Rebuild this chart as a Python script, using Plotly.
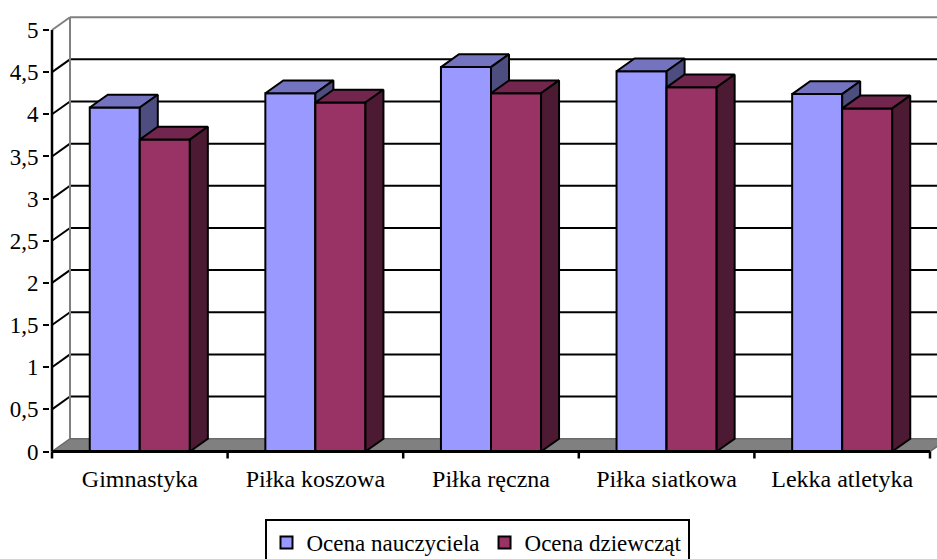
import plotly.graph_objects as go

# ---------------- data ----------------
categories = ["Gimnastyka", "Piłka koszowa", "Piłka ręczna", "Piłka siatkowa", "Lekka atletyka"]
series_names = ["Ocena nauczyciela", "Ocena dziewcząt"]
teacher = [4.08, 4.25, 4.56, 4.51, 4.24]
girls = [3.70, 4.14, 4.25, 4.32, 4.07]
ytick_vals = [0, 0.5, 1, 1.5, 2, 2.5, 3, 3.5, 4, 4.5, 5]
ytick_text = ["0", "0,5", "1", "1,5", "2", "2,5", "3", "3,5", "4", "4,5", "5"]

# ---------------- styling / geometry ----------------
PPX = 175.6          # pixels per category unit
PPY = 84.3           # pixels per value unit
DX = 18 / PPX        # depth offset (category units)
DY = 12.8 / PPY      # depth offset (value units)
W = 0.285            # bar width (category units)
YMAX = 5

front_cols = ["#9999FF", "#993366"]
top_cols = ["#7373C0", "#73264D"]
side_cols = ["#4D4D80", "#4D1A33"]
GRAY = "#808080"
FONT = "Liberation Serif, Times New Roman, serif"

W_PX, H_PX = 937, 559
ML, MT, MB = 50, 8, 97
x0 = -0.5 - (52 - ML) / PPX
x1 = x0 + (W_PX - ML) / PPX
y_bottom_px = H_PX - MB
y0 = -(y_bottom_px - 451.5) / PPY
y1 = y0 + (H_PX - MT - MB) / PPY

n = len(categories)
xl, xr = -0.5, n - 0.5

fig = go.Figure()


def line(xs, ys, color="black", width=2):
    fig.add_trace(go.Scatter(x=xs, y=ys, mode="lines", line=dict(color=color, width=width),
                             showlegend=False, hoverinfo="skip"))


def poly(xs, ys, fill, lw=2):
    fig.add_trace(go.Scatter(x=xs + [xs[0]], y=ys + [ys[0]], mode="lines", fill="toself",
                             fillcolor=fill, line=dict(color="black", width=lw),
                             showlegend=False, hoverinfo="skip"))


# back wall gridlines + left wall diagonals
for v in ytick_vals[1:]:
    c = GRAY if v == YMAX else "black"
    line([xl + DX, x1 + 1], [v + DY, v + DY], color=c)
    line([xl, xl + DX], [v, v + DY], color=c)
# back wall left edge
line([xl + DX, xl + DX], [DY, YMAX + DY], color=GRAY)

# floor
fig.add_trace(go.Scatter(x=[xl, xr, xr + DX, xl + DX, xl], y=[0, 0, DY, DY, 0], mode="lines",
                         fill="toself", fillcolor=GRAY, line=dict(color="#6a6a6a", width=1.5),
                         showlegend=False, hoverinfo="skip"))

# bars (pseudo 3D)
for i in range(n):
    for s, vals in enumerate([teacher, girls]):
        h = vals[i]
        bx0 = i - W + s * W
        bx1 = bx0 + W
        poly([bx0, bx1, bx1, bx0], [0, 0, h, h], front_cols[s])
        poly([bx0, bx1, bx1 + DX, bx0 + DX], [h, h, h + DY, h + DY], top_cols[s])
        poly([bx1, bx1 + DX, bx1 + DX, bx1], [0, DY, h + DY, h], side_cols[s])

# front axes
line([xl, xr], [0, 0], width=3)
line([xl, xl], [0, YMAX], width=2.5)
# category boundary ticks
for b in range(n + 1):
    line([b - 0.5, b - 0.5], [0, -7 / PPY], width=2.5)

# legend-only entries
for s in range(2):
    fig.add_trace(go.Bar(x=[None], y=[None], name=series_names[s],
                         marker=dict(color=front_cols[s], line=dict(color="black", width=2))))

fig.update_layout(
    width=W_PX, height=H_PX,
    margin=dict(l=ML, r=0, t=MT, b=MB, autoexpand=False),
    paper_bgcolor="white", plot_bgcolor="white",
    font=dict(family=FONT, size=23, color="black"),
    showlegend=True,
    legend=dict(orientation="h", xref="container", x=477 / W_PX, xanchor="center",
                yref="container", y=(H_PX - 519) / H_PX, yanchor="top",
                bordercolor="black", borderwidth=2, bgcolor="white",
                font=dict(family=FONT, size=23), itemwidth=30, tracegroupgap=0),
    xaxis=dict(range=[x0, x1], showgrid=False, zeroline=False, showline=False,
               tickmode="array", tickvals=list(range(n)), ticktext=categories,
               tickfont=dict(family=FONT, size=24),
               ticks="", ticklabelstandoff=0, fixedrange=True, automargin=False),
    yaxis=dict(range=[y0, y1], showgrid=False, zeroline=False, showline=False,
               tickmode="array", tickvals=ytick_vals, ticktext=ytick_text,
               ticks="outside", ticklen=6, tickwidth=2, tickcolor="black",
               fixedrange=True, automargin=False),
)

fig.write_html("out.html")
